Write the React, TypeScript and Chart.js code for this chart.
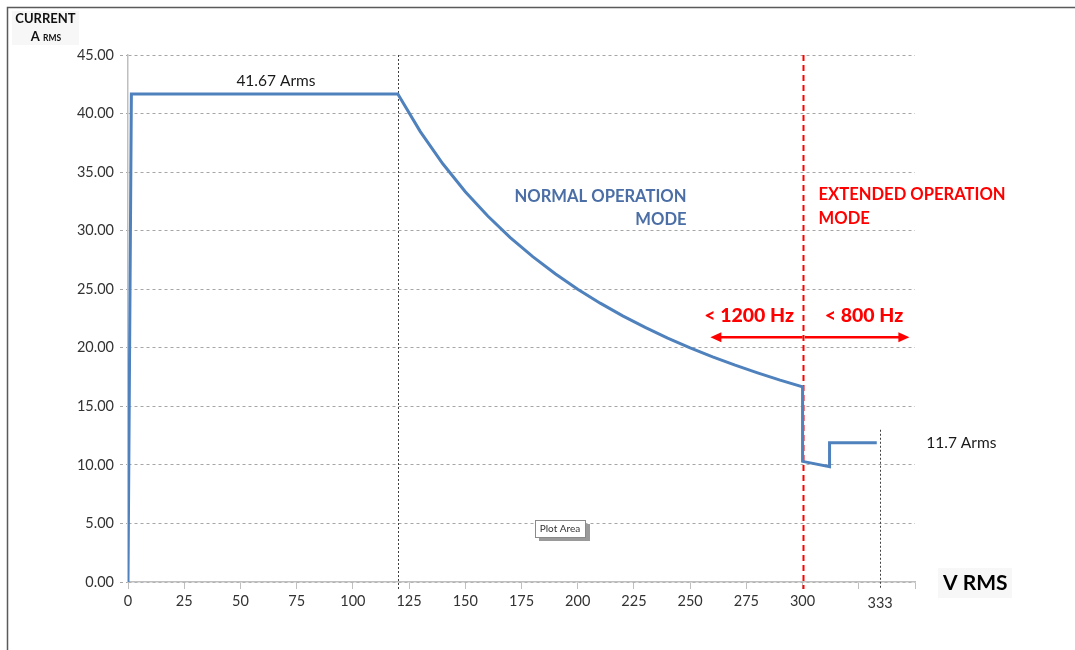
import React, { useEffect, useRef } from "react";
import { Chart, registerables } from "chart.js";

Chart.register(...registerables);

// Curve data (V RMS vs A RMS)
const voltage = [0, 1.5, 120, 130, 140, 150, 160, 170, 180, 190, 200, 210, 220, 230, 240, 250, 260, 270, 280, 290, 300, 300, 312, 312, 333];
const current = [0, 41.67, 41.67, 38.46, 35.71, 33.33, 31.25, 29.41, 27.78, 26.32, 25.0, 23.81, 22.73, 21.74, 20.83, 20.0, 19.23, 18.52, 17.86, 17.24, 16.67, 10.3, 9.85, 11.88, 11.88];

const xTickValues = [0, 25, 50, 75, 100, 125, 150, 175, 200, 225, 250, 275, 300, 325, 350];
const xTickHidden = [325, 350];
const yTickValues = [0, 5, 10, 15, 20, 25, 30, 35, 40, 45];

const markerLines = [
  { x: 120, yFrom: 45, color: "#404040", dash: [2, 2], width: 1 },
  { x: 300, yFrom: 45, color: "#ff0000", dash: [6, 4], width: 2 },
  { x: 334.5, yFrom: 13, color: "#404040", dash: [2, 2], width: 1 },
];

const App: React.FC = () => {
  const ref = useRef<HTMLCanvasElement | null>(null);

  useEffect(() => {
    document.body.style.margin = "0";
    const canvas = ref.current;
    if (!canvas) return;

    const FONT = "Lato, 'Open Sans', sans-serif";

    const txt = (ctx: CanvasRenderingContext2D, s: string, x: number, y: number, font: string, color: string, align: CanvasTextAlign) => {
      ctx.font = font;
      ctx.fillStyle = color;
      ctx.textAlign = align;
      ctx.textBaseline = "middle";
      ctx.fillText(s, x, y);
    };

    const overlay = {
      id: "overlay",
      beforeDraw(chart: any) {
        const ctx = chart.ctx;
        ctx.save();
        ctx.fillStyle = "#ffffff";
        ctx.fillRect(0, 0, chart.width, chart.height);
        // outer frame
        ctx.strokeStyle = "#5a5a5a";
        ctx.lineWidth = 1.5;
        ctx.beginPath();
        ctx.moveTo(7.5, chart.height);
        ctx.lineTo(7.5, 7.5);
        ctx.lineTo(chart.width, 7.5);
        ctx.stroke();
        ctx.restore();
      },
      beforeDatasetsDraw(chart: any) {
        const ctx = chart.ctx;
        const xs = chart.scales.x;
        const ys = chart.scales.y;
        const bottom = chart.chartArea.bottom;
        ctx.save();
        for (const m of markerLines) {
          ctx.strokeStyle = m.color;
          ctx.lineWidth = m.width;
          ctx.setLineDash(m.dash);
          ctx.beginPath();
          const x = Math.round(xs.getPixelForValue(m.x)) + 0.5;
          ctx.moveTo(x, ys.getPixelForValue(m.yFrom));
          ctx.lineTo(x, bottom + 7);
          ctx.stroke();
        }
        ctx.restore();
      },
      afterDatasetsDraw(chart: any) {
        const ctx = chart.ctx;
        const xs = chart.scales.x;
        const ys = chart.scales.y;
        const px = (v: number) => xs.getPixelForValue(v);
        const py = (v: number) => ys.getPixelForValue(v);
        const bottom = chart.chartArea.bottom;
        ctx.save();

        txt(ctx, "41.67 Arms", px(65.8), py(42.8), `15.5px ${FONT}`, "#1a1a1a", "center");
        txt(ctx, "NORMAL OPERATION", px(248.4), py(32.9), `bold 16.6px ${FONT}`, "#4a6ea5", "right");
        txt(ctx, "MODE", px(248.4), py(30.9), `bold 16.6px ${FONT}`, "#4a6ea5", "right");
        txt(ctx, "EXTENDED OPERATION", px(307.1), py(33.05), `bold 16.6px ${FONT}`, "#ff0000", "left");
        txt(ctx, "MODE", px(307.1), py(31.0), `bold 16.6px ${FONT}`, "#ff0000", "left");
        txt(ctx, "< 1200 Hz", px(276.2), py(22.75), `900 19.5px ${FONT}`, "#ff0000", "center");
        txt(ctx, "< 800 Hz", px(327.3), py(22.75), `900 19.5px ${FONT}`, "#ff0000", "center");
        txt(ctx, "11.7 Arms", px(355), py(11.9), `15.5px ${FONT}`, "#1a1a1a", "left");
        txt(ctx, "333", px(334.5), bottom + 21, `14.5px ${FONT}`, "#333333", "center");

        // arrows
        const arrow = (x1: number, x2: number, y: number) => {
          ctx.strokeStyle = "#ff0000";
          ctx.fillStyle = "#ff0000";
          ctx.lineWidth = 2.5;
          const dir = Math.sign(x2 - x1);
          ctx.beginPath();
          ctx.moveTo(x1, y);
          ctx.lineTo(x2 - dir * 8, y);
          ctx.stroke();
          ctx.beginPath();
          ctx.moveTo(x2, y);
          ctx.lineTo(x2 - dir * 11, y - 5);
          ctx.lineTo(x2 - dir * 11, y + 5);
          ctx.closePath();
          ctx.fill();
        };
        arrow(px(300), px(259), py(20.9));
        arrow(px(301), px(347.5), py(20.9));

        // Y title
        ctx.fillStyle = "#f7f7f7";
        ctx.fillRect(12, 11, 67, 34);
        txt(ctx, "CURRENT", 45.5, 19, `bold 13px ${FONT}`, "#111111", "center");
        ctx.font = `bold 13px ${FONT}`;
        const aw = ctx.measureText("A ").width;
        ctx.font = `bold 8.5px ${FONT}`;
        const rw = ctx.measureText("RMS").width;
        const start = 46 - (aw + rw) / 2;
        txt(ctx, "A ", start, 36.5, `bold 13px ${FONT}`, "#111111", "left");
        txt(ctx, "RMS", start + aw, 38, `bold 8.5px ${FONT}`, "#111111", "left");

        // X title
        ctx.fillStyle = "#f7f7f7";
        ctx.fillRect(938, 568, 74, 30);
        txt(ctx, "V RMS", 943, 583, `bold 21px ${FONT}`, "#000000", "left");

        // "Plot Area" tooltip
        ctx.fillStyle = "#9a9a9a";
        ctx.fillRect(539, 524, 51, 17);
        ctx.fillStyle = "#ffffff";
        ctx.fillRect(535, 520, 50, 17);
        ctx.strokeStyle = "#8a8a8a";
        ctx.lineWidth = 1;
        ctx.strokeRect(535.5, 520.5, 50, 17);
        txt(ctx, "Plot Area", 560, 529, `10px ${FONT}`, "#333333", "center");

        ctx.restore();
      },
    };

    const chart = new Chart(canvas, {
      type: "line",
      data: {
        datasets: [
          {
            data: voltage.map((v, i) => ({ x: v, y: current[i] })),
            borderColor: "#4f81bd",
            borderWidth: 3,
            pointRadius: 0,
            tension: 0,
            fill: false,
          },
        ],
      },
      options: {
        animation: false,
        responsive: false,
        maintainAspectRatio: false,
        layout: { padding: { top: 55, right: 160, left: 0, bottom: 0 } },
        plugins: { legend: { display: false }, tooltip: { enabled: false } },
        scales: {
          x: {
            type: "linear",
            min: 0,
            max: 350,
            afterBuildTicks: (s: any) => {
              s.ticks = xTickValues.map((v) => ({ value: v }));
            },
            afterFit: (s: any) => {
              s.height = 68;
            },
            ticks: {
              autoSkip: false,
              maxRotation: 0,
              padding: 4,
              color: "#333333",
              font: { family: FONT, size: 14.5 },
              callback: (v: any) => (xTickHidden.includes(Number(v)) ? "" : String(v)),
            },
            grid: { drawOnChartArea: false, drawTicks: true, tickLength: 7, color: "#bfbfbf" },
            border: { color: "#bfbfbf", width: 1.5 },
          },
          y: {
            type: "linear",
            min: 0,
            max: 45,
            afterBuildTicks: (s: any) => {
              s.ticks = yTickValues.map((v) => ({ value: v }));
            },
            afterFit: (s: any) => {
              s.width = 128;
            },
            ticks: {
              padding: 6,
              color: "#333333",
              font: { family: FONT, size: 14.5 },
              callback: (v: any) => Number(v).toFixed(2),
            },
            grid: { color: "#a6a6a6", tickLength: 8, lineWidth: 1, tickBorderDash: [3, 3] },
            border: { color: "#bfbfbf", width: 1.5, dash: [3, 3] },
          },
        },
      } as any,
      plugins: [overlay],
    });

    return () => chart.destroy();
  }, []);

  return <canvas ref={ref} width={1075} height={650} style={{ display: "block", width: 1075, height: 650 }} />;
};

export default App;
